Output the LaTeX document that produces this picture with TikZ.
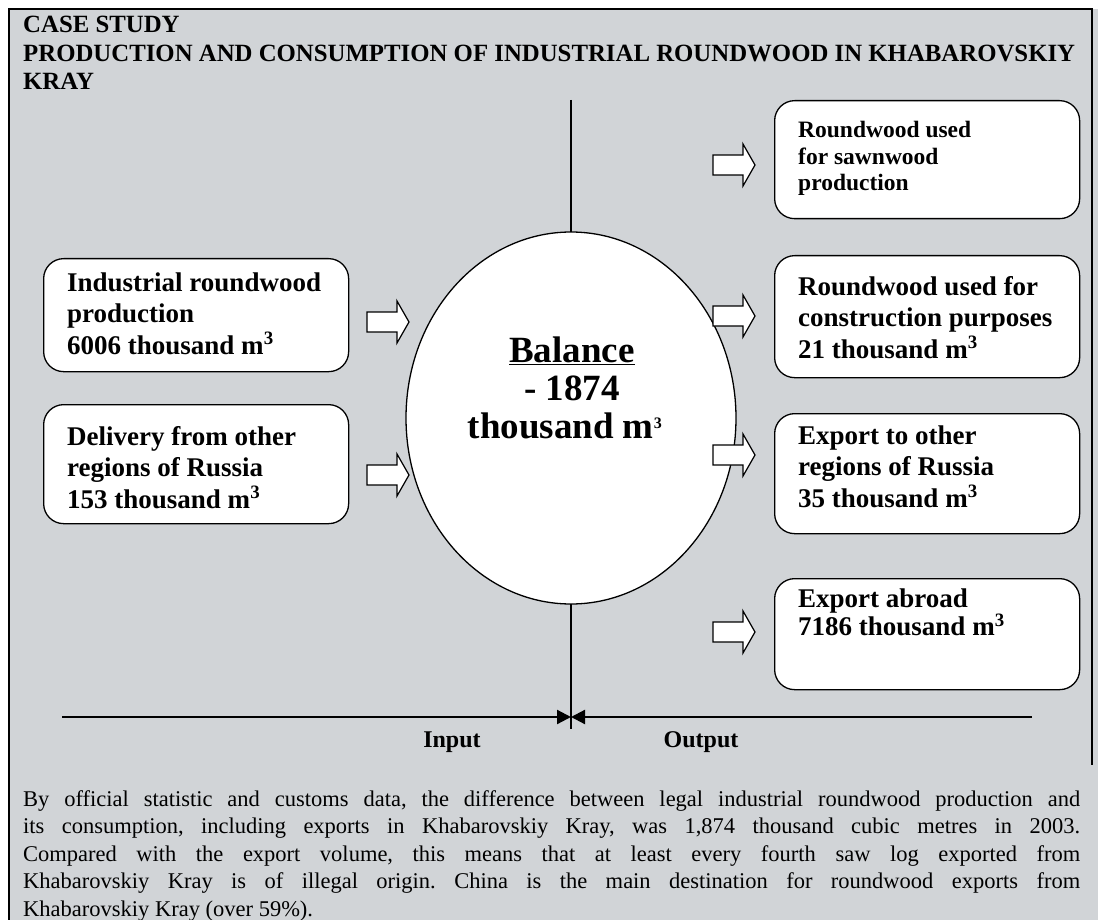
\documentclass[tikz,border=0pt]{standalone}
\usepackage{fontspec}
\setmainfont{Liberation Serif}
\usetikzlibrary{arrows.meta,shapes.geometric}
\definecolor{bg}{RGB}{209,212,215}
\frenchspacing
\tikzset{
  box/.style={draw, fill=white, rounded corners=20pt, line width=1.3pt, inner sep=0pt, anchor=north west, minimum width=305pt},
  boxtext/.style={anchor=base west, inner sep=0pt, align=left, font=\fontsize{27}{31.5}\selectfont\bfseries},
  smalltext/.style={anchor=base west, inner sep=0pt, align=left, font=\fontsize{23.5}{26.5}\selectfont\bfseries},
  blockarrow/.style={draw, fill=white, line width=1.2pt, line join=miter},
  axis/.style={line width=2.2pt},
  lbl/.style={anchor=base, inner sep=0pt, font=\fontsize{24}{28}\selectfont\bfseries},
}
\newcommand\barrow[2]{\draw[blockarrow] (#1,#2-10) -- (#1+30,#2-10) -- (#1+30,#2-21) -- (#1+42,#2) -- (#1+30,#2+21) -- (#1+30,#2+10) -- (#1,#2+10) -- cycle;}
\begin{document}
\begin{tikzpicture}[x=1pt,y=-1pt]
\useasboundingbox (0,0) rectangle (1098,920);
\fill[bg] (9,9) rectangle (1098,920);
\draw[line width=1.8pt] (9,921) -- (9,9) -- (1092,9) -- (1092,765);
% title (anchor: baseline of last line)
\node[anchor=base west, inner sep=0pt, align=left, font=\fontsize{24.8}{28.5}\selectfont\bfseries] (title) at (23,90)
  {CASE STUDY\\PRODUCTION AND CONSUMPTION OF INDUSTRIAL ROUNDWOOD IN KHABAROVSKIY\\KRAY};
% vertical line and balance
\coordinate (vtop) at (571,100);
\coordinate (vbot) at (571,729);
\draw[line width=1.5pt] (vtop) -- (vbot);
\node[draw, fill=white, ellipse, line width=1.3pt, minimum width=330pt, minimum height=372pt, inner sep=0pt] (bal) at (571,418) {};
\node[anchor=base, inner sep=0pt, font=\fontsize{37}{38}\selectfont\bfseries] (balt) at (572,362) {\underline{Balance}};
\node[anchor=base, inner sep=0pt, font=\fontsize{37}{38}\selectfont\bfseries] (baln) at (572,400) {- 1874};
\node[anchor=base, inner sep=0pt, font=\fontsize{37}{38}\selectfont\bfseries] (balu) at (565,438) {thousand m\textsuperscript{\fontsize{16}{16}\selectfont 3}};
% left boxes
\node[box, minimum height=113pt] (inprod) at (43,258) {};
\node[boxtext] (inprodt) at (67,354) {Industrial roundwood\\production\\6006 thousand m\textsuperscript{3}};
\node[box, minimum height=119pt] (indel) at (43,404) {};
\node[boxtext] (indelt) at (67,508) {Delivery from other\\regions of Russia\\153 thousand m\textsuperscript{3}};
% right boxes
\node[box, minimum height=118pt] (osaw) at (774,100) {};
\node[smalltext] (osawt) at (798,191) {Roundwood used\\for sawnwood\\production};
\node[box, minimum height=122pt] (ocon) at (774,255) {};
\node[boxtext] (ocont) at (798,358) {Roundwood used for\\construction purposes\\21 thousand m\textsuperscript{3}};
\node[box, minimum height=120pt] (oexp) at (774,413) {};
\node[boxtext] (oexpt) at (798,507) {Export to other\\regions of Russia\\35 thousand m\textsuperscript{3}};
\node[box, minimum height=111pt] (oabr) at (774,578) {};
\node[boxtext, font=\fontsize{27}{28.5}\selectfont\bfseries] (oabrt) at (798,635.5) {Export abroad\\7186 thousand m\textsuperscript{3}};
% block arrows
\barrow{367}{322}
\barrow{367}{475}
\barrow{713}{165}
\barrow{713}{316}
\barrow{713}{455}
\barrow{713}{632}
% axis
\coordinate (axl) at (62,717);
\coordinate (axm) at (571,717);
\coordinate (axr) at (1032,717);
\draw[axis, -{Triangle[length=14pt,width=14pt]}] (axl) -- (axm);
\draw[axis, -{Triangle[length=14pt,width=14pt]}] (axr) -- (axm);
\node[lbl] (inl) at (452,747) {Input};
\node[lbl] (outl) at (701,747) {Output};
% paragraph (anchor: baseline of last line)
\node[anchor=base west, inner sep=0pt, align=left, font=\fontsize{22.5}{27.5}\selectfont] (para) at (23,916)
  {\makebox[1057pt][s]{By official statistic and customs data, the difference between legal industrial roundwood production and}\\
   \makebox[1057pt][s]{its consumption, including exports in Khabarovskiy Kray, was 1,874 thousand cubic metres in 2003.}\\
   \makebox[1057pt][s]{Compared with the export volume, this means that at least every fourth saw log exported from}\\
   \makebox[1057pt][s]{Khabarovskiy Kray is of illegal origin. China is the main destination for roundwood exports from}\\
   Khabarovskiy Kray (over 59\%).};
\end{tikzpicture}
\end{document}
